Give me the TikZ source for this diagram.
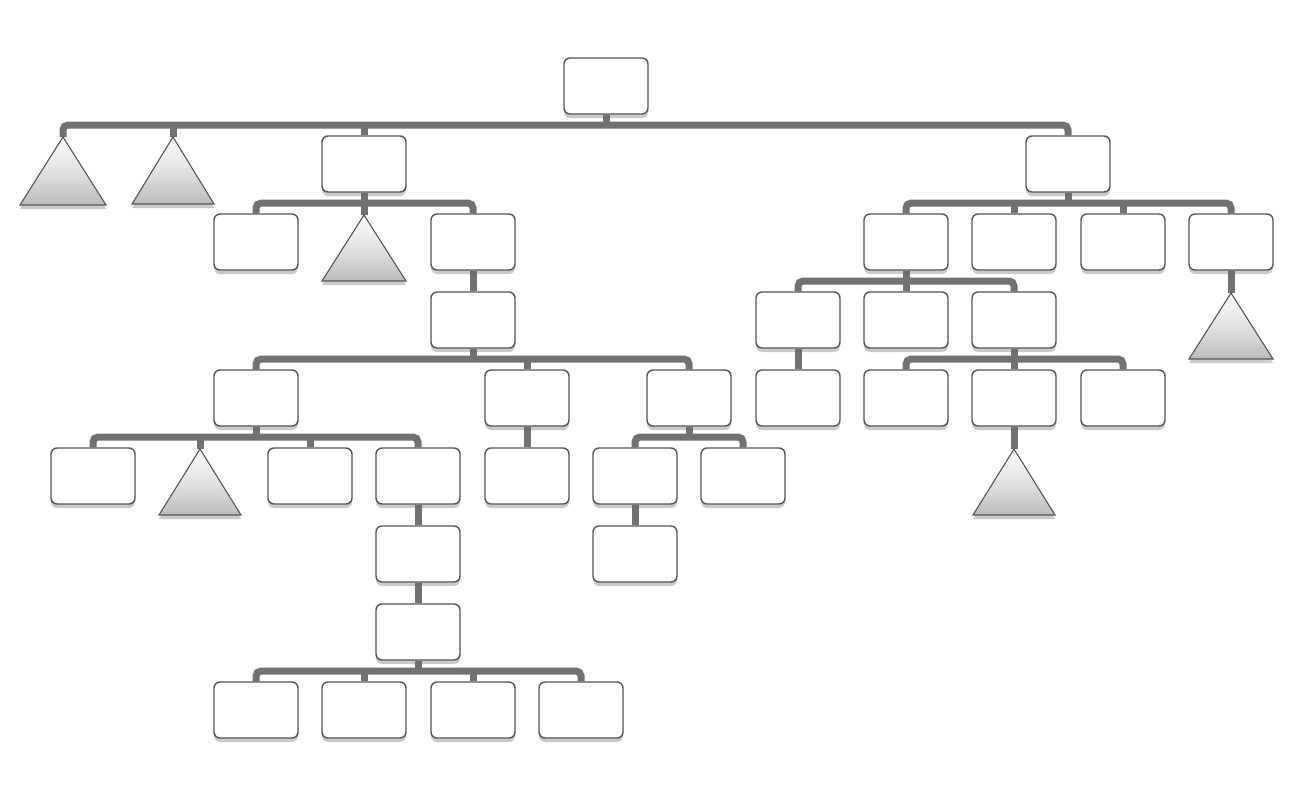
\documentclass[tikz,border=0pt]{standalone}
\usetikzlibrary{shadows,backgrounds}
\definecolor{conncol}{HTML}{717171}
\definecolor{edgecol}{HTML}{555555}
\definecolor{tritop}{HTML}{F7F7F7}
\definecolor{tribot}{HTML}{BDBDBD}
\tikzset{
  box/.style={draw=edgecol, line width=1.4pt, fill=white, rounded corners=6pt,
    minimum width=84pt, minimum height=56pt, inner sep=0pt,
    drop shadow={shadow xshift=0pt, shadow yshift=-4pt, opacity=0.35, fill=black!60}},
  trishadow/.style={fill=black!60, opacity=0.35},
  triedge/.style={draw=edgecol, line width=1.1pt, line join=miter},
  conn/.style={draw=conncol, line width=7pt, rounded corners=5pt}
}
% #1 name, #2 apex x, #3 apex y, #4 half base, #5 height
\newcommand{\gradtri}[5]{%
  \coordinate (#1) at (#2,#3);
  \fill[trishadow] (#2,#3+4) -- ++(#4,#5) -- ++(-2*#4,0) -- cycle;
  \begin{scope}
    \clip (#2,#3) -- ++(#4,#5) -- ++(-2*#4,0) -- cycle;
    \foreach \i [evaluate=\i as \pc using {int(100*(\i/23)^1.4)}] in {0,...,23}{
      \fill[tribot!\pc!tritop] (#2-#4-1,#3+\i*#5/24) rectangle (#2+#4+1,#3+\i*#5/24+#5/24+0.6);
    }
  \end{scope}
  \draw[triedge] (#2,#3) -- ++(#4,#5) -- ++(-2*#4,0) -- cycle;
}
\begin{document}
\begin{tikzpicture}[x=1pt,y=-1pt]
\useasboundingbox (0,0) rectangle (1293,801);
% boxes
\node[box] (r) at (606,86) {};
\node[box] (a) at (364,164) {};
\node[box] (b) at (1068,164) {};
\node[box] (a1) at (256,242) {};
\node[box] (a3) at (473,242) {};
\node[box] (b1) at (906,242) {};
\node[box] (b2) at (1014,242) {};
\node[box] (b3) at (1123,242) {};
\node[box] (b4) at (1231,242) {};
\node[box] (a31) at (473,320) {};
\node[box] (b11) at (798,320) {};
\node[box] (b12) at (906,320) {};
\node[box] (b13) at (1014,320) {};
\node[box] (c1) at (256,398) {};
\node[box] (c2) at (527,398) {};
\node[box] (c3) at (689,398) {};
\node[box] (b111) at (798,398) {};
\node[box] (b131) at (906,398) {};
\node[box] (b132) at (1014,398) {};
\node[box] (b133) at (1123,398) {};
\node[box] (d1) at (93,476) {};
\node[box] (d3) at (310,476) {};
\node[box] (d4) at (418,476) {};
\node[box] (c21) at (527,476) {};
\node[box] (c31) at (635,476) {};
\node[box] (c32) at (743,476) {};
\node[box] (d41) at (418,554) {};
\node[box] (c311) at (635,554) {};
\node[box] (d411) at (418,632) {};
\node[box] (e1) at (256,710) {};
\node[box] (e2) at (364,710) {};
\node[box] (e3) at (473,710) {};
\node[box] (e4) at (581,710) {};
% triangles
\gradtri{t1}{63}{137}{43}{68}
\gradtri{t2}{173}{137}{41}{67}
\gradtri{t3}{364}{215}{42}{66}
\gradtri{t4}{1231}{293}{42}{66}
\gradtri{t5}{200}{449}{41}{66}
\gradtri{t6}{1014}{449}{41}{66}
% bar levels
\coordinate (y0) at (0,125);
\coordinate (y1) at (0,203);
\coordinate (y2) at (0,281);
\coordinate (y3) at (0,359);
\coordinate (y4) at (0,437);
\coordinate (y7) at (0,671);
\begin{scope}[on background layer]
% root
\draw[conn] (t1) |- (r.south |- y0) -| (b.north);
\draw[conn] (r.south) -- (r.south |- y0);
\draw[conn] (t2) -- (t2 |- y0);
\draw[conn] (a.north) -- (a.north |- y0);
% a
\draw[conn] (a1.north) |- (a.south |- y1) -| (a3.north);
\draw[conn] (a.south) -- (t3);
% b
\draw[conn] (b1.north) |- (b.south |- y1) -| (b4.north);
\draw[conn] (b.south) -- (b.south |- y1);
\draw[conn] (b2.north) -- (b2.north |- y1);
\draw[conn] (b3.north) -- (b3.north |- y1);
\draw[conn] (b4.south) -- (t4);
% a3
\draw[conn] (a3.south) -- (a31.north);
\draw[conn] (c1.north) |- (a31.south |- y3) -| (c3.north);
\draw[conn] (a31.south) -- (a31.south |- y3);
\draw[conn] (c2.north) -- (c2.north |- y3);
% b1
\draw[conn] (b11.north) |- (b1.south |- y2) -| (b13.north);
\draw[conn] (b1.south) -- (b12.north);
\draw[conn] (b11.south) -- (b111.north);
\draw[conn] (b131.north) |- (b13.south |- y3) -| (b133.north);
\draw[conn] (b13.south) -- (b132.north);
\draw[conn] (b132.south) -- (t6);
% c1
\draw[conn] (d1.north) |- (c1.south |- y4) -| (d4.north);
\draw[conn] (c1.south) -- (c1.south |- y4);
\draw[conn] (t5) -- (t5 |- y4);
\draw[conn] (d3.north) -- (d3.north |- y4);
\draw[conn] (d4.south) -- (d41.north);
\draw[conn] (d41.south) -- (d411.north);
\draw[conn] (e1.north) |- (d411.south |- y7) -| (e4.north);
\draw[conn] (d411.south) -- (d411.south |- y7);
\draw[conn] (e2.north) -- (e2.north |- y7);
\draw[conn] (e3.north) -- (e3.north |- y7);
% c2, c3
\draw[conn] (c2.south) -- (c21.north);
\draw[conn] (c31.north) |- (c3.south |- y4) -| (c32.north);
\draw[conn] (c3.south) -- (c3.south |- y4);
\draw[conn] (c31.south) -- (c311.north);
\end{scope}
\end{tikzpicture}
\end{document}
